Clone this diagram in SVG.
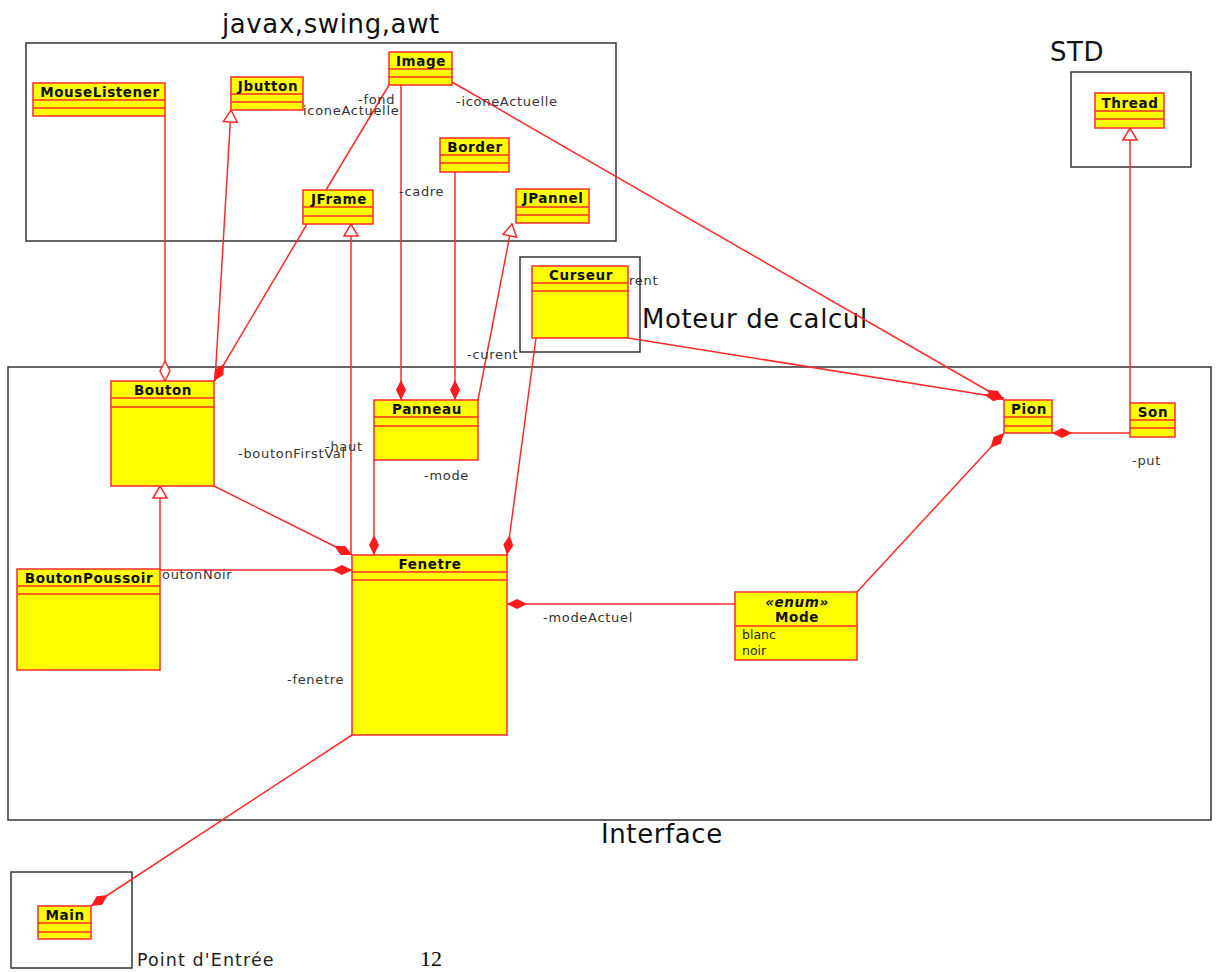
<svg xmlns="http://www.w3.org/2000/svg" width="1216" height="972" viewBox="0 0 1216 972">
<style>
.pkg{fill:none;stroke:#333;stroke-width:1.5}
.ptitle{font-family:"DejaVu Sans",sans-serif;font-size:26px;fill:#111;letter-spacing:0.6px}
.cls rect{fill:#ffff00;stroke:#ff2a2a;stroke-width:1.5}
.cls line{stroke:#ff2a2a;stroke-width:1.5}
.cname{font-family:"DejaVu Sans",sans-serif;font-size:13.5px;font-weight:bold;fill:#111;text-anchor:middle;letter-spacing:0.6px}
.attr{font-family:"DejaVu Sans",sans-serif;font-size:12.5px;fill:#222}
.lbl{font-family:"DejaVu Sans",sans-serif;font-size:13px;fill:#333;letter-spacing:0.7px}
.con path{fill:none;stroke:#ff2a2a;stroke-width:1.5}
.comp{marker-end:url(#dia)}
.aggr{marker-end:url(#odia)}
.gen{marker-end:url(#tri)}
</style>
<defs>
<marker id="dia" viewBox="0 0 20 10" refX="20" refY="5" markerWidth="20" markerHeight="10" markerUnits="userSpaceOnUse" orient="auto"><path d="M0,5 L10,0 L20,5 L10,10 z" fill="#ff1a1a"/></marker>
<marker id="odia" viewBox="-1 -1 22 12" refX="20" refY="5" markerWidth="22" markerHeight="12" markerUnits="userSpaceOnUse" orient="auto"><path d="M0,5 L10,0 L20,5 L10,10 z" fill="#fff" stroke="#ff2a2a" stroke-width="1.5"/></marker>
<marker id="tri" viewBox="-1 -1 14 16" refX="12" refY="7" markerWidth="14" markerHeight="16" markerUnits="userSpaceOnUse" orient="auto"><path d="M0,0 L12,7 L0,14 z" fill="#fff" stroke="#ff2a2a" stroke-width="1.5"/></marker>
</defs>
<rect width="1216" height="972" fill="#fff"/>

<g id="packages">
<rect class="pkg" x="26" y="43" width="590" height="198"/>
<text class="ptitle" x="222" y="33">javax,swing,awt</text>
<rect class="pkg" x="1071" y="72" width="120" height="95"/>
<text class="ptitle" x="1050" y="61">STD</text>
<rect class="pkg" x="520" y="257" width="120" height="95"/>
<text class="ptitle" x="642" y="328">Moteur de calcul</text>
<rect class="pkg" x="8" y="367" width="1203" height="453"/>
<text class="ptitle" x="601" y="843">Interface</text>
<rect class="pkg" x="11" y="872" width="121" height="96"/>
<text x="137" y="966" font-family="DejaVu Sans, sans-serif" font-size="17.5" letter-spacing="1.1" fill="#222">Point d'Entrée</text>
<text x="420" y="966" font-family="Liberation Serif, serif" font-size="22" fill="#000">12</text>
</g>

<g id="connectors" class="con">
<path class="aggr" d="M165,116 L165,381"/>
<path class="gen" d="M215,381 L231,110"/>
<path class="comp" d="M307,224 L214,381"/>
<path d="M389,85 L326,190"/>
<path class="comp" d="M401,85 L401,400"/>
<path class="comp" d="M455,172 L455,400"/>
<path class="gen" d="M478,400 L512,224"/>
<path class="comp" d="M452,82 L1004,400"/>
<path class="comp" d="M628,338 L1004,398"/>
<path class="comp" d="M536,338 L507,555"/>
<path class="gen" d="M351,555 L351,224"/>
<path class="comp" d="M374,460 L374,555"/>
<path class="comp" d="M214,486 L352,555"/>
<path class="gen" d="M160,569 L160,486"/>
<path class="comp" d="M160,570 L352,570"/>
<path class="comp" d="M735,604 L507,604"/>
<path class="comp" d="M857,592 L1004,433"/>
<path class="comp" d="M1130,433 L1052,433"/>
<path class="gen" d="M1130,403 L1130,128"/>
<path class="comp" d="M352,735 L91,906"/>
</g>

<g id="n-MouseListener" class="cls"><rect x="33" y="83" width="132" height="33"/><line x1="33" y1="100" x2="165" y2="100"/><line x1="33" y1="108" x2="165" y2="108"/><text class="cname" x="100" y="97">MouseListener</text></g>
<g id="n-Jbutton" class="cls"><rect x="231" y="77" width="72" height="33"/><line x1="231" y1="94" x2="303" y2="94"/><line x1="231" y1="102" x2="303" y2="102"/><text class="cname" x="268" y="91">Jbutton</text></g>
<g id="n-Image" class="cls"><rect x="389" y="52" width="63" height="33"/><line x1="389" y1="69" x2="452" y2="69"/><line x1="389" y1="77" x2="452" y2="77"/><text class="cname" x="421" y="66">Image</text></g>
<g id="n-Border" class="cls"><rect x="440" y="138" width="69" height="34"/><line x1="440" y1="155" x2="509" y2="155"/><line x1="440" y1="163" x2="509" y2="163"/><text class="cname" x="475" y="152">Border</text></g>
<g id="n-JFrame" class="cls"><rect x="303" y="190" width="70" height="34"/><line x1="303" y1="207" x2="373" y2="207"/><line x1="303" y1="216" x2="373" y2="216"/><text class="cname" x="339" y="204">JFrame</text></g>
<g id="n-JPannel" class="cls"><rect x="516" y="189" width="73" height="34"/><line x1="516" y1="207" x2="589" y2="207"/><line x1="516" y1="215" x2="589" y2="215"/><text class="cname" x="553" y="203">JPannel</text></g>
<g id="n-Thread" class="cls"><rect x="1095" y="93" width="69" height="35"/><line x1="1095" y1="111" x2="1164" y2="111"/><line x1="1095" y1="119" x2="1164" y2="119"/><text class="cname" x="1130" y="108">Thread</text></g>
<g id="n-Curseur" class="cls"><rect x="532" y="266" width="96" height="72"/><line x1="532" y1="283" x2="628" y2="283"/><line x1="532" y1="291" x2="628" y2="291"/><text class="cname" x="581" y="280">Curseur</text></g>
<g id="n-Bouton" class="cls"><rect x="111" y="381" width="103" height="105"/><line x1="111" y1="398" x2="214" y2="398"/><line x1="111" y1="407" x2="214" y2="407"/><text class="cname" x="163" y="395">Bouton</text></g>
<g id="n-Panneau" class="cls"><rect x="374" y="400" width="104" height="60"/><line x1="374" y1="417" x2="478" y2="417"/><line x1="374" y1="426" x2="478" y2="426"/><text class="cname" x="427" y="414">Panneau</text></g>
<g id="n-Fenetre" class="cls"><rect x="352" y="555" width="155" height="180"/><line x1="352" y1="572" x2="507" y2="572"/><line x1="352" y1="580" x2="507" y2="580"/><text class="cname" x="430" y="569">Fenetre</text></g>
<g id="n-BoutonPoussoir" class="cls"><rect x="17" y="569" width="143" height="101"/><line x1="17" y1="586" x2="160" y2="586"/><line x1="17" y1="594" x2="160" y2="594"/><text class="cname" x="89" y="583">BoutonPoussoir</text></g>
<g id="n-Mode" class="cls"><rect x="735" y="592" width="122" height="68"/><line x1="735" y1="626" x2="857" y2="626"/><text class="cname" x="797" y="607" font-style="italic" font-size="12">«enum»</text><text class="cname" x="797" y="622">Mode</text><text class="attr" x="742" y="639">blanc</text><text class="attr" x="742" y="655">noir</text></g>
<g id="n-Pion" class="cls"><rect x="1004" y="400" width="48" height="33"/><line x1="1004" y1="417" x2="1052" y2="417"/><line x1="1004" y1="426" x2="1052" y2="426"/><text class="cname" x="1029" y="414">Pion</text></g>
<g id="n-Son" class="cls"><rect x="1130" y="403" width="45" height="34"/><line x1="1130" y1="420" x2="1175" y2="420"/><line x1="1130" y1="428" x2="1175" y2="428"/><text class="cname" x="1153" y="417">Son</text></g>
<g id="n-Main" class="cls"><rect x="38" y="906" width="53" height="33"/><line x1="38" y1="923" x2="91" y2="923"/><line x1="38" y1="932" x2="91" y2="932"/><text class="cname" x="65" y="920">Main</text></g>

<g id="labels">
<text class="lbl" x="358" y="104">-fond</text>
<text class="lbl" x="303" y="115">iconeActuelle</text>
<text class="lbl" x="456" y="106">-iconeActuelle</text>
<text class="lbl" x="399" y="196">-cadre</text>
<text class="lbl" x="629" y="285">rent</text>
<text class="lbl" x="467" y="359">-curent</text>
<text class="lbl" x="238" y="458">-boutonFirstVal</text>
<text class="lbl" x="325" y="451">-haut</text>
<text class="lbl" x="424" y="480">-mode</text>
<text class="lbl" x="162" y="579">outonNoir</text>
<text class="lbl" x="543" y="622">-modeActuel</text>
<text class="lbl" x="287" y="684">-fenetre</text>
<text class="lbl" x="1132" y="465">-put</text>
</g>
</svg>
